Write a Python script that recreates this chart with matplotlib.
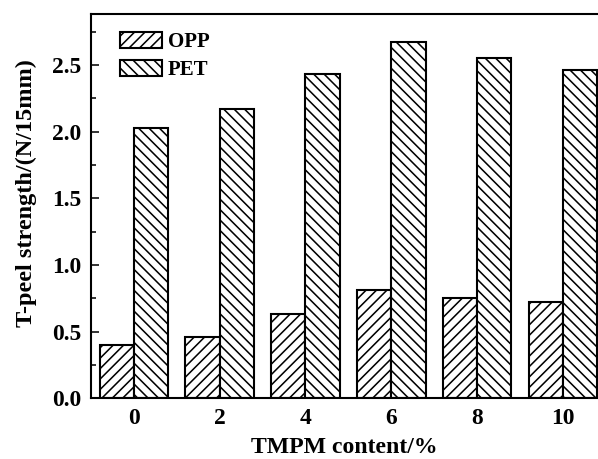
import matplotlib
matplotlib.use('Agg')
import matplotlib.pyplot as plt
import numpy as np
from matplotlib.ticker import MultipleLocator

# TMPM content (%) and T-peel strength (N/15mm)
content = [0, 2, 4, 6, 8, 10]
opp = [0.40, 0.46, 0.63, 0.81, 0.75, 0.72]
pet = [2.03, 2.17, 2.43, 2.67, 2.55, 2.46]

plt.rcParams['font.family'] = ['Liberation Serif', 'DejaVu Serif']
plt.rcParams['font.weight'] = 'bold'
plt.rcParams['hatch.linewidth'] = 0.9

dpi = 125
fig = plt.figure(figsize=(598 / dpi, 459 / dpi), dpi=dpi)
ax = fig.add_axes([91 / 598, 60.7 / 459, 507 / 598, 384.3 / 459])

x = np.array(content)
w = 0.8
ax.bar(x - w / 2, opp, width=w, color='white', edgecolor='black',
       linewidth=1.2, hatch='////', label='OPP')
ax.bar(x + w / 2, pet, width=w, color='white', edgecolor='black',
       linewidth=1.2, hatch='\\\\\\\\', label='PET')

ax.set_xlim(-1, 10.82)
ax.set_ylim(0, 2.883)
ax.set_xticks(content)
ax.set_xticklabels([str(c) for c in content])
ax.yaxis.set_major_locator(MultipleLocator(0.5))
ax.yaxis.set_minor_locator(MultipleLocator(0.25))
ax.yaxis.set_major_formatter(matplotlib.ticker.FormatStrFormatter('%.1f'))

ax.tick_params(axis='both', which='major', direction='in', length=4.6,
               width=0.9, labelsize=13.5, pad=5.5)
ax.tick_params(axis='y', which='minor', direction='in', length=2.8, width=0.9)

ax.spines['right'].set_visible(False)
for s in ['left', 'top', 'bottom']:
    ax.spines[s].set_linewidth(1.2)

ax.set_xlabel('TMPM content/%', fontsize=13.7, fontweight='bold')
ax.set_ylabel('T-peel strength/(N/15mm)', fontsize=14, fontweight='bold')
ax.xaxis.set_label_coords(0.5, -0.102)
ax.yaxis.set_label_coords(-0.107, 0.534)

ax.legend(loc='upper left', bbox_to_anchor=(0.057, 0.953), frameon=False,
          fontsize=12, handlelength=2.0, handleheight=0.82,
          handletextpad=0.3, labelspacing=0.35, borderpad=0, borderaxespad=0)

fig.savefig('out.png', dpi=dpi)
